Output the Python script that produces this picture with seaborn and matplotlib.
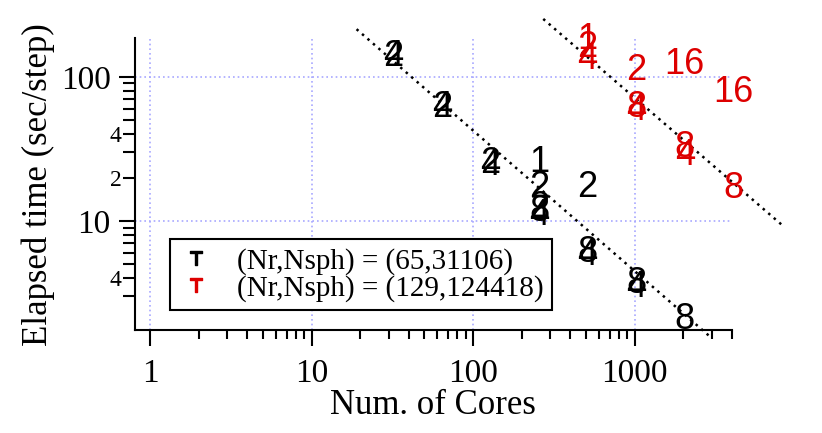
import numpy as np
import pandas as pd
import matplotlib
matplotlib.use("Agg")
import matplotlib.pyplot as plt
import seaborn as sns
from matplotlib.ticker import FixedLocator, FixedFormatter, NullFormatter
from matplotlib.lines import Line2D

# (Nr,Nsph) = (65,31106) -- label is the thread count per process
black_cores = [32, 32, 64, 64, 128, 128, 256, 256, 256, 256, 256, 512, 512, 512, 1024, 1024, 2048]
black_times = [147, 147, 65, 65, 26.5, 26, 27.1, 18.2, 13.2, 12.4, 11.7, 18.2, 6.4, 6.1, 3.9, 3.65, 2.21]
black_labels = ["2", "4", "2", "4", "2", "4", "1", "2", "2", "8", "4", "2", "8", "4", "8", "4", "8"]

# (Nr,Nsph) = (129,124418)
red_cores = [512, 512, 512, 1024, 1024, 1024, 2048, 2048, 2048, 4096, 4096]
red_times = [195, 170, 141, 117, 65, 62, 130, 34.5, 30.2, 83, 18]
red_labels = ["1", "2", "4", "2", "8", "4", "16", "8", "4", "16", "8"]

# ideal scaling guide lines
guide_a_cores = [19, 2980]
guide_a_times = [214, 1.55]
guide_b_cores = [272, 8340]
guide_b_times = [252, 9.2]

legend_labels = ["(Nr,Nsph) = (65,31106)", "(Nr,Nsph) = (129,124418)"]
series_colors = ["black", "#dd0000"]

x_major = [1, 10, 100, 1000]
x_minor = [m * d for d in [1, 10, 100] for m in range(2, 10)] + [2000, 3000, 4000]
y_major = [10, 100]
y_minor = [3, 4, 5, 6, 7, 8, 9, 20, 30, 40, 50, 60, 70, 80, 90]
y_minor_labels = ["", "4", "", "", "", "", "", "2", "", "4", "", "", "", "", ""]

sns.set_style("ticks")
plt.rcParams['font.family'] = ['Liberation Serif', 'DejaVu Serif']
plt.rcParams['text.color'] = 'black'
plt.rcParams['axes.labelcolor'] = 'black'
plt.rcParams['xtick.color'] = 'black'
plt.rcParams['ytick.color'] = 'black'
plt.rcParams['mathtext.fontset'] = 'custom'
plt.rcParams['mathtext.sf'] = 'Liberation Sans'

fig = plt.figure(figsize=(8.22, 4.33), dpi=100)
ax = fig.add_axes([135 / 822, 1 - 330 / 433, (731.8 - 135) / 822, (330 - 38.3) / 433])
ax.set_xscale('log')
ax.set_yscale('log')

dots = (0, (1, 1.9))
sns.lineplot(x=guide_a_cores, y=guide_a_times, ax=ax, color='black', linewidth=1.8,
             linestyle=dots, clip_on=False)
sns.lineplot(x=guide_b_cores, y=guide_b_times, ax=ax, color='black', linewidth=1.8,
             linestyle=dots, clip_on=False)

for cores, times, labels, col in [(black_cores, black_times, black_labels, series_colors[0]),
                                  (red_cores, red_times, red_labels, series_colors[1])]:
    for x, y, lab in zip(cores, times, labels):
        ax.text(x, y, lab, ha='center', va='center_baseline', fontsize=26,
                family='Liberation Sans', color=col)

ax.set_xlim(0.807, 4000)
ax.set_ylim(1.75, 185)

ax.xaxis.set_major_locator(FixedLocator(x_major))
ax.xaxis.set_major_formatter(FixedFormatter([str(v) for v in x_major]))
ax.xaxis.set_minor_locator(FixedLocator(x_minor))
ax.xaxis.set_minor_formatter(NullFormatter())
ax.yaxis.set_major_locator(FixedLocator(y_major))
ax.yaxis.set_major_formatter(FixedFormatter([str(v) for v in y_major]))
ax.yaxis.set_minor_locator(FixedLocator(y_minor))
ax.yaxis.set_minor_formatter(FixedFormatter(y_minor_labels))

ax.tick_params(axis='x', which='major', length=11.5, width=1.5, labelsize=24, pad=9)
ax.tick_params(axis='x', which='minor', length=6.5, width=1.5)
ax.tick_params(axis='y', which='major', length=11.5, width=1.5, labelsize=24, pad=6)
ax.tick_params(axis='y', which='minor', length=8.5, width=1.5, labelsize=17, pad=1)

ax.grid(True, which='major', color='#a8a8ff', linestyle=(0, (1, 1.8)), linewidth=1.2)
ax.set_axisbelow(True)
sns.despine(ax=ax)
for s in ['left', 'bottom']:
    ax.spines[s].set_linewidth(1.5)
    ax.spines[s].set_color('black')

ax.set_xlabel("Num. of Cores", fontsize=25, labelpad=0)
ax.set_ylabel("Elapsed time (sec/step)", fontsize=25, labelpad=4)

handles = [Line2D([], [], ls='none', marker=r'$\mathsf{T}$', color=c, markersize=10)
           for c in series_colors]
leg = ax.legend(handles, legend_labels, loc='upper left', bbox_to_anchor=(0.0586, 0.312),
                frameon=True, fancybox=False, edgecolor='black', framealpha=1,
                fontsize=21, handlelength=1.2, handletextpad=0.8, labelspacing=0.0,
                borderpad=0.3, borderaxespad=0)
leg.get_frame().set_linewidth(1.5)

fig.savefig("out.png", dpi=100)
